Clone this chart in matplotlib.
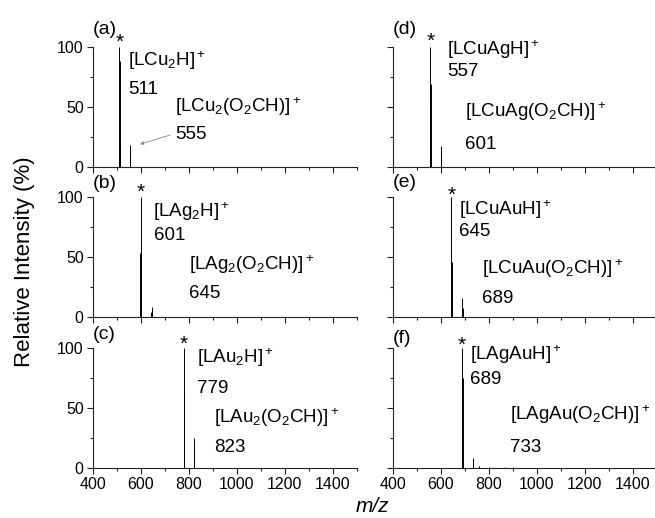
import matplotlib
matplotlib.use("Agg")
import matplotlib.pyplot as plt
from matplotlib.ticker import MultipleLocator, FixedLocator

plt.rcParams['font.family'] = ['Liberation Sans', 'DejaVu Sans']
plt.rcParams['mathtext.fontset'] = 'custom'
plt.rcParams['mathtext.rm'] = 'Liberation Sans'
plt.rcParams['mathtext.it'] = 'Liberation Sans:italic'
plt.rcParams['mathtext.bf'] = 'Liberation Sans:bold'

# ---- data (m/z, relative intensity %) ----
panel_ids = ["(a)", "(b)", "(c)", "(d)", "(e)", "(f)"]

mz_a = [511, 513, 515, 555, 557]
int_a = [100, 88, 20, 18, 15]
mz_b = [599, 601, 603, 643, 645, 647]
int_b = [53, 100, 47, 4, 8, 4]
mz_c = [779, 780, 823, 824]
int_c = [100, 63, 25, 15]
mz_d = [555, 557, 559, 561, 601, 603]
int_d = [50, 100, 69, 15, 17.5, 14]
mz_e = [645, 647, 689, 691]
int_e = [100, 46, 16, 7]
mz_f = [689, 691, 733, 735, 760, 800, 870, 900]
int_f = [100, 75, 8, 6, 1.2, 0.8, 1.0, 0.6]

base_peak = [511, 601, 779, 557, 645, 689]

labels_main = ["[LCu$_2$H]$^+$", "[LAg$_2$H]$^+$", "[LAu$_2$H]$^+$",
               "[LCuAgH]$^+$", "[LCuAuH]$^+$", "[LAgAuH]$^+$"]
labels_main_mz = ["511", "601", "779", "557", "645", "689"]
labels_form = ["[LCu$_2$(O$_2$CH)]$^+$", "[LAg$_2$(O$_2$CH)]$^+$", "[LAu$_2$(O$_2$CH)]$^+$",
               "[LCuAg(O$_2$CH)]$^+$", "[LCuAu(O$_2$CH)]$^+$", "[LAgAu(O$_2$CH)]$^+$"]
labels_form_mz = ["555", "645", "823", "601", "689", "733"]

mz_all = [mz_a, mz_b, mz_c, mz_d, mz_e, mz_f]
int_all = [int_a, int_b, int_c, int_d, int_e, int_f]

# text positions (data coords)
pos_main = [(548, 84), (653, 83), (833, 87), (625, 93), (678, 85), (722, 90)]
pos_main_mz = [(548, 60.5), (654, 64), (833, 62.5), (626, 76), (678, 67), (722, 70)]
pos_form = [(743, 46), (801, 39), (905, 37), (701, 42), (771, 36), (889, 39.4)]
pos_form_mz = [(743, 23), (801, 16), (905, 12.8), (701, 15.3), (771, 11.7), (890, 13)]
star_y = [108, 108, 107, 109, 105.6, 106.7]
label_y = [115, 111, 110.6, 115, 111.8, 108]

W, H = 655, 518
fig = plt.figure(figsize=(W / 100, H / 100), dpi=100)

col_x = [92.7, 392.7]
row_zero = [167, 316.7, 467.7]
aw = 264
ah = 150

for i in range(6):
    col = i // 3
    row = i % 3
    left = col_x[col] / W
    bottom = (H - row_zero[row]) / H
    ax = fig.add_axes([left, bottom, aw / W, ah / H])
    ax.vlines(mz_all[i], 0, int_all[i], color='black', lw=0.7)
    ax.set_xlim(400, 1500)
    ax.set_ylim(0, 125)
    for s in ['top', 'right']:
        ax.spines[s].set_visible(False)
    ax.spines['left'].set_bounds(0, 100)
    for s in ['left', 'bottom']:
        ax.spines[s].set_linewidth(0.8)
        ax.spines[s].set_color('#222222')
    ax.xaxis.set_major_locator(MultipleLocator(200))
    ax.xaxis.set_minor_locator(MultipleLocator(100))
    ax.yaxis.set_major_locator(FixedLocator([0, 50, 100]))
    ax.yaxis.set_minor_locator(FixedLocator([25, 75]))
    ax.tick_params(which='major', direction='out', length=4, width=0.8,
                   labelsize=11.5, pad=2.5, color='#222222')
    ax.tick_params(which='minor', direction='out', length=2.5, width=0.8, color='#222222')
    if row != 2:
        ax.tick_params(axis='x', labelbottom=False)
    if col == 1:
        ax.tick_params(axis='y', labelleft=False)
    ax.patch.set_alpha(0)

    fs = 13.5
    ax.text(400, label_y[i], panel_ids[i], fontsize=14, va='center', ha='left')
    ax.text(base_peak[i], star_y[i] - 9, "*", fontsize=15, ha='center', va='baseline')
    ax.text(*pos_main[i], labels_main[i], fontsize=fs, ha='left', va='baseline')
    ax.text(*pos_main_mz[i], labels_main_mz[i], fontsize=fs, ha='left', va='baseline')
    ax.text(*pos_form[i], labels_form[i], fontsize=fs, ha='left', va='baseline')
    ax.text(*pos_form_mz[i], labels_form_mz[i], fontsize=fs, ha='left', va='baseline')

    if i == 0:
        ax.annotate("", xy=(597, 19), xytext=(723, 26.7),
                    arrowprops=dict(arrowstyle='-|>', color='#888888', lw=0.6,
                                    mutation_scale=5, shrinkA=0, shrinkB=0))

fig.text(25 / W, 1 - 262 / H, "Relative Intensity (%)", rotation=90,
         fontsize=16, ha='center', va='center')
fig.text(372 / W, 1 - 506 / H, "m/z", fontsize=15, style='italic',
         ha='center', va='center')

fig.savefig("out.png", dpi=100)
